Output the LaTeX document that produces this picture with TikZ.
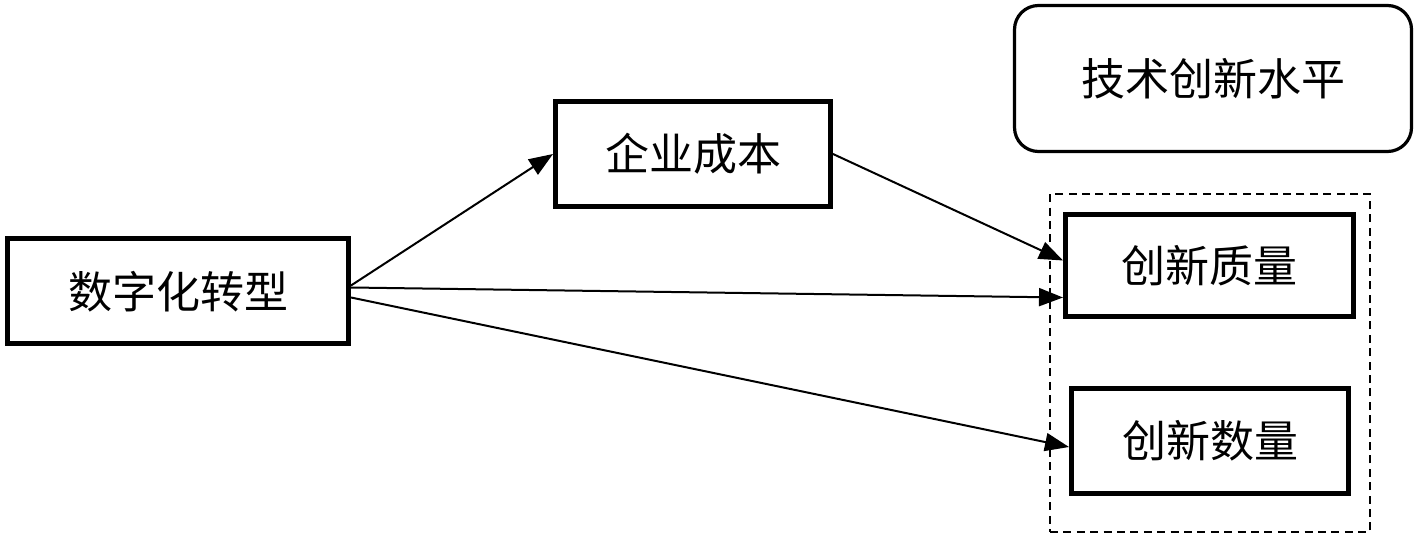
\documentclass[tikz,border=0pt]{standalone}
\usepackage{fontspec}
\newfontfamily\cjk{Noto Sans CJK SC}
\usetikzlibrary{arrows.meta}
\begin{document}
\begin{tikzpicture}[x=0.5pt,y=-0.5pt,
  box/.style={draw,line width=2.5pt,inner sep=0pt,font=\cjk\fontsize{22pt}{26pt}\selectfont},
  rbox/.style={draw,line width=1.6pt,rounded corners=12pt,inner sep=0pt,font=\cjk\fontsize{22pt}{26pt}\selectfont},
  group/.style={draw,line width=1.3pt,dash pattern=on 4pt off 2.7pt,inner sep=0pt},
  conn/.style={line width=1pt,-{Triangle[length=12pt,width=9pt]}}]
\useasboundingbox (0,0) rectangle (1417,539);
\node[box,minimum width=170.5pt,minimum height=52.5pt] (a) at (178,291.5) {数字化转型};
\node[box,minimum width=137.5pt,minimum height=52.5pt] (b) at (693,154) {企业成本};
\node[rbox,minimum width=198.5pt,minimum height=73pt] (t) at (1213,78.5) {技术创新水平};
\node[group,minimum width=160pt,minimum height=169pt] (g) at (1210,363) {};
\node[box,minimum width=144pt,minimum height=51pt] (q) at (1209.5,265.5) {创新质量};
\node[box,minimum width=138.5pt,minimum height=52.5pt] (n) at (1210,441) {创新数量};
\draw[conn] ([yshift=3pt]a.east) -- (b.west);
\draw[conn] (b.east) -- ([yshift=2.5pt]q.west);
\draw[conn] ([yshift=2pt]a.east) -- ([yshift=-16pt]q.west);
\draw[conn] ([yshift=-3pt]a.east) -- ([yshift=-3pt]n.west);
\end{tikzpicture}
\end{document}
